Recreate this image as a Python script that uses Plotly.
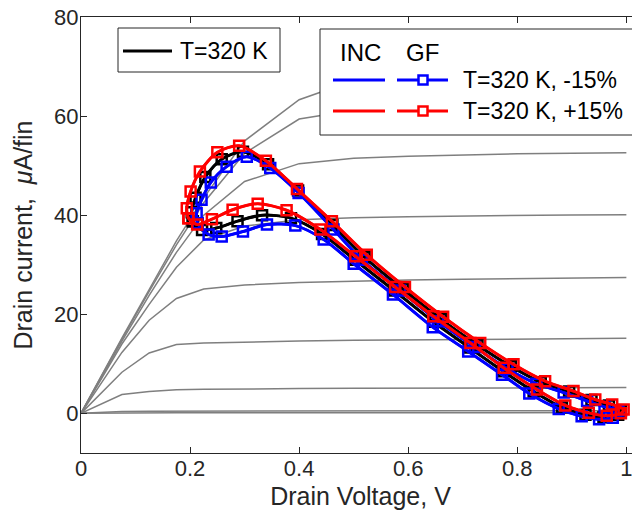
import plotly.graph_objects as go

# ---------------- data ----------------
# gray family of Id-Vd curves (several gate voltages)
gray_vd = [0, 0.075, 0.125, 0.175, 0.225, 0.3, 0.4, 0.5, 0.6, 0.7, 0.8, 0.9, 1.0]
gray_id = [
    [0, 0.10, 0.12, 0.13, 0.13, 0.14, 0.14, 0.14, 0.15, 0.15, 0.15, 0.15, 0.15],
    [0, 0.40, 0.45, 0.47, 0.48, 0.49, 0.50, 0.50, 0.50, 0.51, 0.51, 0.52, 0.52],
    [0, 3.8, 4.4, 4.75, 4.85, 4.95, 5.0, 5.05, 5.1, 5.12, 5.15, 5.18, 5.2],
    [0, 8.3, 12.2, 13.9, 14.2, 14.4, 14.6, 14.75, 14.85, 14.95, 15.0, 15.1, 15.15],
    [0, 12.3, 18.8, 23.2, 25.1, 25.9, 26.4, 26.7, 26.9, 27.05, 27.2, 27.3, 27.4],
    [0, 14.0, 22.0, 29.5, 35.0, 37.8, 39.1, 39.5, 39.7, 39.85, 39.95, 40.05, 40.1],
    [0, 14.6, 23.8, 32.5, 40.0, 46.8, 50.4, 51.5, 51.9, 52.2, 52.4, 52.5, 52.6],
    [0, 15.0, 24.6, 34.0, 42.5, 52.5, 59.4, 61.2, 61.8, 62.2, 62.5, 62.7, 62.9],
    [0, 15.2, 25.0, 34.8, 43.5, 55.0, 63.3, 67.2, 68.8, 69.6, 70.2, 70.6, 71.0],
]

# T=320 K loop (black)
black_vd = [0.205, 0.222, 0.248, 0.287, 0.332, 0.385, 0.442, 0.502, 0.574, 0.646, 0.712, 0.774,
            0.830, 0.882, 0.925, 0.958, 0.985, 0.990, 0.968, 0.936, 0.895, 0.843, 0.788, 0.727,
            0.660, 0.590, 0.520, 0.461, 0.398, 0.343, 0.297, 0.258, 0.228, 0.210, 0.203, 0.205]
black_id = [38.8, 37.0, 37.4, 38.8, 40.0, 39.4, 36.2, 31.0, 24.8, 18.5, 13.3, 8.5,
            4.4, 1.2, -0.3, -0.8, -0.3, 0.6, 1.6, 2.7, 4.4, 6.3, 9.5, 13.8,
            19.0, 25.1, 31.5, 38.0, 45.0, 50.3, 52.8, 51.3, 47.7, 43.5, 40.6, 38.8]

# T=320 K, -15% (blue)
blue_vd = [0.214, 0.234, 0.258, 0.297, 0.341, 0.393, 0.445, 0.500, 0.572, 0.645, 0.710, 0.772,
           0.822, 0.876, 0.918, 0.950, 0.975, 0.985, 0.960, 0.928, 0.885, 0.835, 0.782, 0.722,
           0.655, 0.585, 0.515, 0.463, 0.399, 0.347, 0.304, 0.267, 0.238, 0.221, 0.212, 0.214]
blue_id = [38.3, 36.1, 35.7, 36.7, 38.1, 37.9, 35.1, 30.2, 24.0, 17.4, 12.5, 7.8,
           4.0, 0.9, -0.6, -1.2, -0.9, 0.6, 1.3, 2.5, 4.2, 6.0, 9.0, 13.4,
           18.6, 24.8, 31.0, 37.1, 44.5, 49.5, 51.8, 49.8, 46.6, 43.1, 40.4, 38.3]

# T=320 K, +15% (red)
red_vd = [0.197, 0.213, 0.240, 0.278, 0.324, 0.377, 0.439, 0.503, 0.576, 0.646, 0.714, 0.775,
          0.836, 0.888, 0.931, 0.964, 0.990, 0.995, 0.974, 0.943, 0.903, 0.851, 0.793, 0.732,
          0.664, 0.594, 0.524, 0.460, 0.396, 0.339, 0.290, 0.250, 0.218, 0.201, 0.194, 0.197]
red_id = [39.4, 38.1, 39.2, 41.1, 42.3, 41.0, 37.1, 31.7, 25.5, 19.6, 14.2, 9.2,
          4.8, 1.6, 0.1, -0.5, 0.0, 0.8, 1.8, 2.8, 4.5, 6.5, 9.9, 14.2,
          19.5, 25.5, 32.0, 38.8, 45.3, 51.0, 54.0, 52.7, 48.8, 44.8, 41.4, 39.4]

x_ticks = [0, 0.2, 0.4, 0.6, 0.8, 1.0]
x_tick_labels = ["0", "0.2", "0.4", "0.6", "0.8", "1"]
y_ticks = [0, 20, 40, 60, 80]
y_tick_labels = ["0", "20", "40", "60", "80"]

# ---------------- figure ----------------
FONT = "Liberation Sans, Arial, Helvetica, sans-serif"
TXT = "#262626"
GRAY = "#7f7f7f"
BLACK = "#000000"
BLUE = "#0000ff"
RED = "#ff0000"

fig = go.Figure()

for ys in gray_id:
    fig.add_trace(go.Scatter(x=gray_vd, y=ys, mode="lines",
                             line=dict(color=GRAY, width=1.5), showlegend=False,
                             hoverinfo="skip"))

for vd, idv, col in [(black_vd, black_id, BLACK), (blue_vd, blue_id, BLUE), (red_vd, red_id, RED)]:
    # INC (smooth line)
    fig.add_trace(go.Scatter(x=vd, y=idv, mode="lines",
                             line=dict(color=col, width=3, shape="spline", smoothing=0.8),
                             showlegend=False))
    # GF (line with square markers)
    fig.add_trace(go.Scatter(x=vd, y=idv, mode="lines+markers",
                             line=dict(color=col, width=2.5, shape="spline", smoothing=0.8),
                             marker=dict(symbol="square-open", size=10, color=col,
                                         line=dict(color=col, width=2.5)),
                             showlegend=False))

# plot-area edges in window pixels (page body has an 8px offset)
OFF = 8
L, R, T, B = 81, 640, 17, 453


def pxx(px):
    return (px - L) / (R - L)


def pyy(py):
    return (B - py) / (B - T)


shapes = []
annotations = []
LEG = 23

# legend 1
shapes.append(dict(type="rect", xref="paper", yref="paper",
                   x0=pxx(118), x1=pxx(280), y0=pyy(72), y1=pyy(28),
                   line=dict(color="#262626", width=1), fillcolor="white", layer="above"))
shapes.append(dict(type="line", xref="paper", yref="paper",
                   x0=pxx(123), x1=pxx(172), y0=pyy(51), y1=pyy(51),
                   line=dict(color=BLACK, width=3), layer="above"))
annotations.append(dict(xref="paper", yref="paper", x=pxx(178), y=pyy(51),
                        text="T=320 K", showarrow=False, xanchor="left", yanchor="middle",
                        font=dict(family=FONT, size=LEG, color="#000000")))

# legend 2
shapes.append(dict(type="rect", xref="paper", yref="paper",
                   x0=pxx(320), x1=pxx(633), y0=pyy(135), y1=pyy(29),
                   line=dict(color="#262626", width=1), fillcolor="white", layer="above"))
annotations.append(dict(xref="paper", yref="paper", x=pxx(360), y=pyy(53),
                        text="INC", showarrow=False, xanchor="center", yanchor="middle",
                        font=dict(family=FONT, size=LEG + 1, color="#000000")))
annotations.append(dict(xref="paper", yref="paper", x=pxx(422), y=pyy(53),
                        text="GF", showarrow=False, xanchor="center", yanchor="middle",
                        font=dict(family=FONT, size=LEG + 1, color="#000000")))
for rowy, col, lab in [(80, BLUE, "T=320 K, -15%"), (111, RED, "T=320 K, +15%")]:
    shapes.append(dict(type="line", xref="paper", yref="paper",
                       x0=pxx(333), x1=pxx(385), y0=pyy(rowy), y1=pyy(rowy),
                       line=dict(color=col, width=3), layer="above"))
    shapes.append(dict(type="line", xref="paper", yref="paper",
                       x0=pxx(397), x1=pxx(448), y0=pyy(rowy), y1=pyy(rowy),
                       line=dict(color=col, width=3), layer="above"))
    shapes.append(dict(type="rect", xref="paper", yref="paper",
                       x0=pxx(418.5), x1=pxx(427.5), y0=pyy(rowy + 4.5), y1=pyy(rowy - 4.5),
                       line=dict(color=col, width=2.5), fillcolor="white", layer="above"))
    annotations.append(dict(xref="paper", yref="paper", x=pxx(461), y=pyy(rowy),
                            text=lab, showarrow=False, xanchor="left", yanchor="middle",
                            font=dict(family=FONT, size=LEG, color="#000000")))

fig.update_layout(
    width=640, height=518,
    margin=dict(l=L - OFF, r=640 - (R - OFF), t=T - OFF, b=518 - (B - OFF), pad=0,
                autoexpand=False),
    paper_bgcolor="white", plot_bgcolor="white",
    font=dict(family=FONT, size=22, color=TXT),
    shapes=shapes, annotations=annotations,
    showlegend=False,
)
fig.update_xaxes(range=[0, 1.025], tickvals=x_ticks, ticktext=x_tick_labels,
                 automargin=False, ticklabelstandoff=-4, ticklabeloverflow="allow",
                 showgrid=False, zeroline=False, showline=True, linecolor=TXT, linewidth=1,
                 mirror="ticks", ticks="inside", ticklen=6, tickcolor=TXT,
                 tickfont=dict(family=FONT, size=22, color=TXT),
                 title=dict(text="Drain Voltage, V", font=dict(family=FONT, size=25, color=TXT),
                            standoff=7))
fig.update_yaxes(range=[-8, 80], tickvals=y_ticks, ticktext=y_tick_labels,
                 automargin=False, ticklabelstandoff=-3, ticklabeloverflow="allow",
                 showgrid=False, zeroline=False, showline=True, linecolor=TXT, linewidth=1,
                 mirror="ticks", ticks="inside", ticklen=6, tickcolor=TXT,
                 tickfont=dict(family=FONT, size=22, color=TXT),
                 title=dict(text="Drain current,  <i>μ</i>A/fin",
                            font=dict(family=FONT, size=25, color=TXT), standoff=14))

fig.write_html("out.html")
